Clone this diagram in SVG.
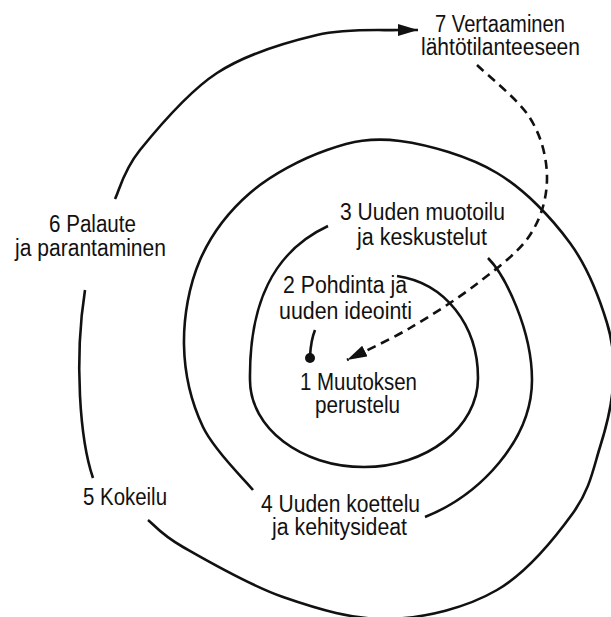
<svg xmlns="http://www.w3.org/2000/svg" width="611" height="617" viewBox="0 0 611 617">
<style>
  .lbl { font-family: "Liberation Sans Narrow", "Liberation Sans", Arial, sans-serif; font-size: 23px; fill: #111; text-anchor: middle; }
  .ln { fill: none; stroke: #111; stroke-width: 2.6; stroke-linecap: butt; }
  .dash { fill: none; stroke: #111; stroke-width: 2.6; stroke-dasharray: 9 6; }
</style>
<defs>
  <marker id="arrow" markerUnits="userSpaceOnUse" markerWidth="22" markerHeight="14" refX="20" refY="6" orient="auto">
    <path d="M0,0 L20,6 L0,12 z" fill="#111"/>
  </marker>
</defs>
<rect width="611" height="617" fill="#fff"/>
<g id="connectors">
  <!-- start dot and stem -->
  <circle cx="310" cy="358" r="5" fill="#111"/>
  <path class="ln" d="M315,330 Q311,340 310,356"/>
  <!-- inner arc: 2 -> 3 -->
  <path class="ln" d="M397,276 C445,283 478,325 478,378 C478,427 427,467 364,467 C301,467 250,428 250,380 C249,305 272,252 328,226"/>
  <!-- middle arc: 3 -> 4 -->
  <path class="ln" d="M488,258 C505,275 532,330 532,380 C532,440 480,495 425,517"/>
  <!-- large arc: 4 -> 5 -->
  <path class="ln" d="M253,490 C244.7,479.5 214.5,451.2 203,427 C191.5,402.8 184.5,372.8 184,345 C183.5,317.2 189,285.3 200,260 C211,234.7 228.8,211.3 250,193 C271.2,174.7 302,158.7 327,150 C352,141.3 371.7,137.2 400,141 C428.3,144.8 468.7,156 497,173 C525.3,190 551.7,218 570,243 C588.3,268 599.8,299.3 607,323 C614.2,346.7 614.2,364.3 613,385 C611.8,405.7 606.7,425.7 600,447 C593.3,468.3 590.2,489.2 573,513 C555.8,536.8 527.5,572.3 497,590 C466.5,607.7 425.7,617.8 390,619 C354.3,620.2 317.5,609 283,597 C248.5,585 205.5,559.8 183,547 C160.5,534.2 153.8,524.5 148,520"/>
  <!-- left arc: 5 -> 6 -->
  <path class="ln" d="M93,478 C80,440 74,360 85,290"/>
  <!-- top arc: 6 -> 7 -->
  <path class="ln" marker-end="url(#arrow)" d="M115,199 C119.2,190.8 123,171 140,150 C157,129 187.5,92.2 217,73 C246.5,53.8 286.5,42.2 317,35 C347.5,27.8 386.2,30.8 400,30 L418,30"/>
  <!-- dashed return: 7 -> 1 -->
  <path class="dash" marker-end="url(#arrow)" d="M477,65 C485.8,73.8 518.3,99.2 530,118 C541.7,136.8 547,158.5 547,178 C547,197.5 541.5,217.5 530,235 C518.5,252.5 498,267.5 478,283 C458,298.5 431.8,315.2 410,328 C388.2,340.8 357.5,354.7 347,360"/>
</g>
<g id="n7"><text class="lbl" x="500" y="32" textLength="130" lengthAdjust="spacingAndGlyphs">7 Vertaaminen</text><text class="lbl" x="500.5" y="55" textLength="159" lengthAdjust="spacingAndGlyphs">lähtötilanteeseen</text></g>
<g id="n6"><text class="lbl" x="92.5" y="232" textLength="87" lengthAdjust="spacingAndGlyphs">6 Palaute</text><text class="lbl" x="90.5" y="256" textLength="151" lengthAdjust="spacingAndGlyphs">ja parantaminen</text></g>
<g id="n3"><text class="lbl" x="422.5" y="220" textLength="165" lengthAdjust="spacingAndGlyphs">3 Uuden muotoilu</text><text class="lbl" x="422" y="245" textLength="130" lengthAdjust="spacingAndGlyphs">ja keskustelut</text></g>
<g id="n2"><text class="lbl" x="345" y="293" textLength="124" lengthAdjust="spacingAndGlyphs">2 Pohdinta ja</text><text class="lbl" x="345.5" y="319" textLength="133" lengthAdjust="spacingAndGlyphs">uuden ideointi</text></g>
<g id="n1"><text class="lbl" x="358.5" y="390" textLength="117" lengthAdjust="spacingAndGlyphs">1 Muutoksen</text><text class="lbl" x="357.5" y="413" textLength="85" lengthAdjust="spacingAndGlyphs">perustelu</text></g>
<g id="n4"><text class="lbl" x="340.5" y="512" textLength="159" lengthAdjust="spacingAndGlyphs">4 Uuden koettelu</text><text class="lbl" x="339.5" y="535" textLength="135" lengthAdjust="spacingAndGlyphs">ja kehitysideat</text></g>
<g id="n5"><text class="lbl" x="125" y="505" textLength="84" lengthAdjust="spacingAndGlyphs">5 Kokeilu</text></g>
</svg>
